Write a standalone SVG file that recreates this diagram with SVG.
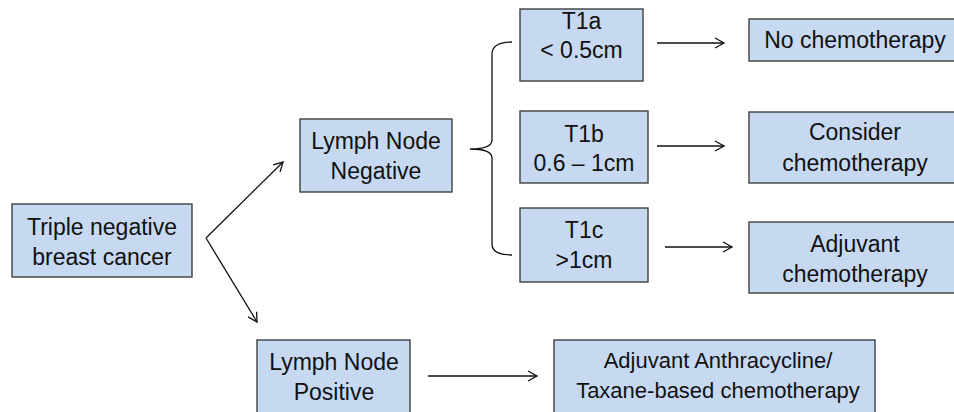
<svg xmlns="http://www.w3.org/2000/svg" width="954" height="412" viewBox="0 0 954 412">
<style>
.box{fill:#c6d9f1;stroke:#3f3f3f;stroke-width:1.4}
.t{font-family:"Liberation Sans",Arial,sans-serif;font-size:23px;fill:#111;text-anchor:middle}
.s{font-size:22px}
.c{fill:none;stroke:#111;stroke-width:1.3}
</style>
<defs>
<marker id="a" markerUnits="userSpaceOnUse" markerWidth="14" markerHeight="14" viewBox="-10 -7 12 14" refX="0" refY="0" orient="auto">
<path d="M-9,-5 L0,0 L-9,5" fill="none" stroke="#111" stroke-width="1.3"/>
</marker>
</defs>
<rect width="954" height="412" fill="#fff"/>
<g id="connectors">
<path class="c" d="M206,238 L283,162" marker-end="url(#a)"/>
<path class="c" d="M206,238 L257,322" marker-end="url(#a)"/>
<path class="c" d="M512,42 Q492,42 492,54 L492,140 Q492,149 470,149 Q492,149 492,158 L492,244 Q492,255 512,255"/>
<path class="c" d="M657,43 L724,43" marker-end="url(#a)"/>
<path class="c" d="M657,146 L724,146" marker-end="url(#a)"/>
<path class="c" d="M665,247 L732,247" marker-end="url(#a)"/>
<path class="c" d="M428,376 L537,376" marker-end="url(#a)"/>
</g>
<g id="tnbc">
<rect class="box" x="12" y="204" width="180" height="73"/>
<text class="t" x="102" y="235">Triple negative</text>
<text class="t" x="102" y="265">breast cancer</text>
</g>
<g id="lnn">
<rect class="box" x="300" y="119" width="152" height="73"/>
<text class="t" x="376" y="149">Lymph Node</text>
<text class="t" x="376" y="179">Negative</text>
</g>
<g id="t1a">
<rect class="box" x="520" y="9" width="123" height="72"/>
<text class="t" x="581.5" y="29">T1a</text>
<text class="t" x="581.5" y="58">&lt; 0.5cm</text>
</g>
<g id="t1b">
<rect class="box" x="520" y="111" width="128" height="72"/>
<text class="t" x="584" y="142">T1b</text>
<text class="t" x="584" y="171">0.6 – 1cm</text>
</g>
<g id="t1c">
<rect class="box" x="520" y="208" width="128" height="74"/>
<text class="t" x="584" y="238">T1c</text>
<text class="t" x="584" y="268">&gt;1cm</text>
</g>
<g id="nochemo">
<rect class="box" x="749" y="19" width="260" height="42"/>
<text class="t" x="855" y="48">No chemotherapy</text>
</g>
<g id="consider">
<rect class="box" x="749" y="112" width="260" height="71"/>
<text class="t" x="855" y="140">Consider</text>
<text class="t" x="855" y="171">chemotherapy</text>
</g>
<g id="adjuvant">
<rect class="box" x="749" y="222" width="260" height="71"/>
<text class="t" x="855" y="252">Adjuvant</text>
<text class="t" x="855" y="282">chemotherapy</text>
</g>
<g id="lnp">
<rect class="box" x="257" y="340" width="153" height="85"/>
<text class="t" x="334" y="370">Lymph Node</text>
<text class="t" x="334" y="400">Positive</text>
</g>
<g id="anthra">
<rect class="box" x="554" y="340" width="321" height="85"/>
<text class="t s" x="718" y="368">Adjuvant Anthracycline/</text>
<text class="t s" x="718" y="398">Taxane-based chemotherapy</text>
</g>
</svg>
